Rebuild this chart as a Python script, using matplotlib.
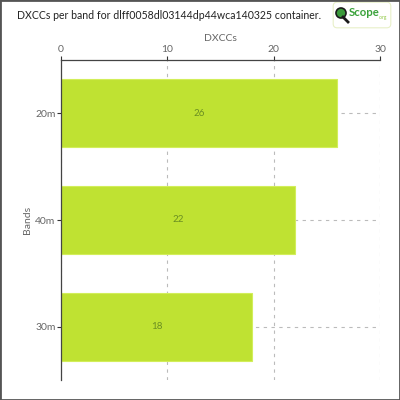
import matplotlib.pyplot as plt
from matplotlib.patches import FancyBboxPatch, Circle, Rectangle
from matplotlib.lines import Line2D

bands = ['20m', '40m', '30m']
dxccs = [26, 22, 18]
xticks = [0, 10, 20, 30]

bar_color = '#bfe232'
text_gray = '#666666'

plt.rcParams['font.family'] = ['Lato', 'DejaVu Sans']

fig = plt.figure(figsize=(4, 4), dpi=100)
ax = fig.add_axes([61 / 400, 0.05, (380 - 61) / 400, 0.80])

ypos = list(range(len(bands)))
bars = ax.barh(ypos, dxccs, height=0.64, color=bar_color,
               edgecolor='#d2ee5a', linewidth=0.8, zorder=2)
for b, v in zip(bars, dxccs):
    ax.text(v / 2, b.get_y() + b.get_height() / 2, str(v),
            ha='center', va='center', fontsize=7, color='#6b8f22', zorder=3)

ax.set_xlim(0, 30)
ax.set_ylim(2.5, -0.5)
ax.set_yticks(ypos)
ax.set_yticklabels(bands)
ax.set_xticks(xticks)
ax.xaxis.tick_top()
ax.xaxis.set_label_position('top')
ax.set_xlabel('DXCCs', fontsize=7.5, color=text_gray, labelpad=3)
ax.set_ylabel('Bands', fontsize=7.5, color=text_gray, labelpad=2)
ax.tick_params(axis='both', labelsize=7.5, labelcolor=text_gray, length=3, width=0.8,
               pad=1, color='#333333')

ax.grid(True, linestyle=(0, (3, 4)), color='#bbbbbb', linewidth=0.8, zorder=0)
ax.set_axisbelow(True)
for s in ['right', 'bottom']:
    ax.spines[s].set_visible(False)
for s in ['top', 'left']:
    ax.spines[s].set_color('#444444')
    ax.spines[s].set_linewidth(0.9)

fig.text(17 / 400, 0.962, 'DXCCs per band for dlff0058dl03144dp44wca140325 container.',
         fontsize=7.6, color='#222222', ha='left', va='center')

# logo box
logo = FancyBboxPatch((334 / 400, 373 / 400), 56 / 400, 24 / 400,
                      boxstyle='round,pad=0.002,rounding_size=0.01',
                      transform=fig.transFigure, facecolor='white',
                      edgecolor='#e8f0c8', linewidth=0.8)
fig.patches.append(logo)
fig.lines.append(Line2D([343 / 400, 348 / 400], [383 / 400, 378 / 400],
                        transform=fig.transFigure, color='#1a1a1a', linewidth=2))
fig.patches.append(Circle((341 / 400, 387 / 400), 5 / 400, transform=fig.transFigure,
                          facecolor='#3a9a3a', edgecolor='#1a1a1a', linewidth=1.2))
fig.text(349 / 400, 388 / 400, 'Scope', fontsize=8.2, fontweight='bold',
         color='#3aa23a', ha='left', va='center')
fig.text(379 / 400, 383 / 400, '.org', fontsize=3.5, color='#8cc63f',
         ha='left', va='center')

# outer border
fig.patches.append(Rectangle((0, 0), 1, 1, transform=fig.transFigure,
                             fill=False, edgecolor='#555555', linewidth=2))

fig.savefig('out.png', dpi=100)
